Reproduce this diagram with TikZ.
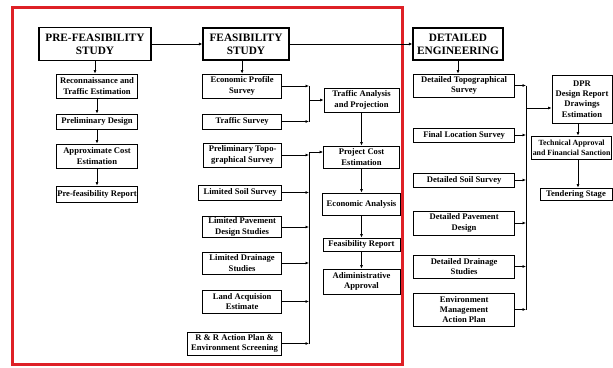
\documentclass[tikz,border=0pt]{standalone}
\usepackage{fontspec}
\setmainfont{Liberation Serif}
\usetikzlibrary{arrows.meta}
\definecolor{framered}{RGB}{222,32,38}
\newcommand{\headfont}{\fontsize{11.3}{13}\selectfont\bfseries}
\newcommand{\boxfont}{\fontsize{8.6}{10.4}\selectfont\bfseries}
\tikzset{
 stage/.style={draw, line width=1.1pt, font=\headfont, align=center, inner sep=1pt},
 task/.style={draw, line width=0.8pt, font=\boxfont, align=center, inner sep=1pt},
 arr/.style={-{Latex[length=3.5pt,width=3pt]}, line width=0.7pt},
 bus/.style={line width=0.7pt}
}
\begin{document}
\begin{tikzpicture}[x=1pt,y=-1pt]
 \useasboundingbox (0,0) rectangle (613,367);
 \draw[framered, line width=3pt] (12,7) rectangle (402,364);
 % pre-feasibility
 \node[stage, minimum width=112, minimum height=33] (pfs) at (95,44) {PRE-FEASIBILITY\\STUDY};
 \node[task, minimum width=81, minimum height=24] (recon) at (97,86) {Reconnaissance and\\Traffic Estimation};
 \node[task, minimum width=81, minimum height=15] (prelim) at (97,121.5) {Preliminary Design};
 \node[task, minimum width=81, minimum height=24] (approx) at (97,156) {Approximate Cost\\Estimation};
 \node[task, minimum width=81, minimum height=16] (pfrep) at (97,194) {Pre-feasibility Report};
 % feasibility
 \node[stage, minimum width=86, minimum height=32] (fs) at (246,44) {FEASIBILITY\\STUDY};
 \node[task, anchor=east, minimum width=79, minimum height=24] (econ) at (282,86) {Economic Profile\\Survey};
 \node[task, anchor=east, minimum width=79, minimum height=15] (traffic) at (282,121.5) {Traffic Survey};
 \node[task, anchor=east, minimum width=78, minimum height=24] (topo) at (282,155) {Preliminary Topo-\\graphical Survey};
 \node[task, anchor=east, minimum width=83, minimum height=15] (soil) at (282,192.5) {Limited Soil Survey};
 \node[task, anchor=east, minimum width=79, minimum height=20] (pave) at (282,227) {Limited Pavement\\Design Studies};
 \node[task, anchor=east, minimum width=79, minimum height=22] (drain) at (282,263) {Limited Drainage\\Studies};
 \node[task, anchor=east, minimum width=79, minimum height=23] (land) at (282,301.5) {Land Acquision\\Estimate};
 \node[task, anchor=east, minimum width=94, minimum height=23] (rr) at (282,343.5) {R \& R Action Plan \&\\Environment Screening};
 \node[task, minimum width=75, minimum height=24] (tap) at (361.5,100) {Traffic Analysis\\and Projection};
 \node[task, minimum width=76, minimum height=22] (pce) at (361.5,157) {Project Cost\\Estimation};
 \node[task, minimum width=78, minimum height=22] (ea) at (361.5,204) {Economic Analysis};
 \node[task, minimum width=77, minimum height=13] (frep) at (361.5,244.5) {Feasibility Report};
 \node[task, minimum width=77, minimum height=25] (admin) at (361.5,281.5) {Adiministrative\\Approval};
 % detailed engineering
 \node[stage, minimum width=90, minimum height=32] (de) at (458,44) {DETAILED\\ENGINEERING};
 \node[task, anchor=east, minimum width=101, minimum height=23] (dtopo) at (515,85.5) {Detailed Topographical\\Survey};
 \node[task, anchor=east, minimum width=101, minimum height=14] (fls) at (515,135) {Final Location Survey};
 \node[task, anchor=east, minimum width=101, minimum height=14] (dsoil) at (515,180) {Detailed Soil Survey};
 \node[task, anchor=east, minimum width=101, minimum height=24] (dpave) at (515,223) {Detailed Pavement\\Design};
 \node[task, anchor=east, minimum width=101, minimum height=23] (ddrain) at (515,266.5) {Detailed Drainage\\Studies};
 \node[task, anchor=east, minimum width=101, minimum height=33] (emap) at (515,309.5) {Environment\\Management\\Action Plan};
 \node[task, minimum width=60, minimum height=48] (dpr) at (582,99) {DPR\\Design Report\\Drawings\\Estimation};
 \node[task, anchor=east, minimum width=80, minimum height=23, font=\fontsize{7.9}{10}\selectfont\bfseries] (tafs) at (612,147.5) {Technical Approval\\and Financial Sanction};
 \node[task, minimum width=72, minimum height=12] (tender) at (576,194) {Tendering Stage};
 \coordinate (busA) at (309,100);
 \coordinate (busB) at (309,152);
 \coordinate (busC) at (526,108);
 % connectors
 \draw[arr] (pfs) -- (fs);
 \draw[arr] (fs) -- (de);
 \draw[arr] (pfs.south) -- (pfs.south |- recon.north);
 \draw[arr] (recon) -- (prelim);
 \draw[arr] (prelim) -- (approx);
 \draw[arr] (approx) -- (pfrep);
 \draw[arr] (fs.south -| econ.north) -- (econ.north);
 \draw[arr] (econ.east) -- (econ.east -| busA);
 \draw[arr] (traffic.east) -- (traffic.east -| busA);
 \draw[bus] (econ.east -| busA) -- (traffic.east -| busA);
 \draw[arr] (busA) -- (tap.west);
 \draw[arr] (tap) -- (pce);
 \draw[bus] (busB) -- (rr.east -| busB);
 \draw[arr] (busB) -- (busB -| pce.west);
 \draw[arr] (topo.east) -- (topo.east -| busB);
 \draw[arr] (soil.east) -- (soil.east -| busB);
 \draw[arr] (pave.east) -- (pave.east -| busB);
 \draw[arr] (drain.east) -- (drain.east -| busB);
 \draw[arr] (land.east) -- (land.east -| busB);
 \draw[arr] (rr.east) -- (rr.east -| busB);
 \draw[arr] (pce) -- (ea);
 \draw[arr] (ea) -- (frep);
 \draw[arr] (frep) -- (admin);
 \draw[arr] (de.south) -- (de.south |- dtopo.north);
 \draw[bus] (dtopo.east -| busC) -- (emap.east -| busC);
 \draw[arr] (dtopo.east) -- (dtopo.east -| busC);
 \draw[arr] (fls.east) -- (fls.east -| busC);
 \draw[arr] (dsoil.east) -- (dsoil.east -| busC);
 \draw[arr] (dpave.east) -- (dpave.east -| busC);
 \draw[arr] (ddrain.east) -- (ddrain.east -| busC);
 \draw[arr] (emap.east) -- (emap.east -| busC);
 \draw[arr] (busC) -- (busC -| dpr.west);
 \draw[arr] (578,0 |- dpr.south) -- (578,0 |- tafs.north);
 \draw[arr] (578,0 |- tafs.south) -- (578,0 |- tender.north);
\end{tikzpicture}
\end{document}
